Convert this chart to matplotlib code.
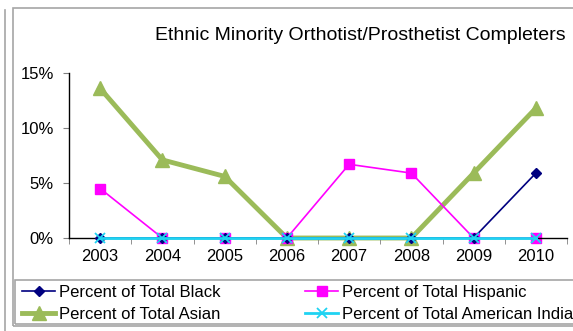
import matplotlib.pyplot as plt
from matplotlib.patches import Rectangle
from matplotlib.ticker import FixedLocator, PercentFormatter

plt.rcParams['font.family'] = ['Liberation Sans', 'DejaVu Sans']

years = ['2003', '2004', '2005', '2006', '2007', '2008', '2009', '2010']
black = [0, 0, 0, 0, 0, 0, 0, 5.9]
hispanic = [4.5, 0, 0, 0, 6.7, 5.9, 0, 0]
asian = [13.6, 7.1, 5.6, 0, 0, 0, 5.9, 11.8]
american_indian = [0, 0, 0, 0, 0, 0, 0, 0]

W, H = 573, 331
fig = plt.figure(figsize=(W / 100, H / 100), dpi=100)
ax = fig.add_axes([69 / W, 1 - 238 / H, (567 - 69) / W, (238 - 73) / H])

x = range(len(years))
l_black, = ax.plot(x, black, color='#000080', marker='D', markersize=5, lw=1.2,
                   label='Percent of Total Black', zorder=3, clip_on=False)
l_hisp, = ax.plot(x, hispanic, color='#FF00FF', marker='s', markersize=7, lw=1.2,
                  label='Percent of Total Hispanic', zorder=2, clip_on=False)
l_asian, = ax.plot(x, asian, color='#9BBB59', marker='^', markersize=10, lw=3.5,
                   label='Percent of Total Asian', zorder=1, clip_on=False)
l_ind, = ax.plot(x, american_indian, color='#1FD3F2', marker='x', markersize=7, lw=2,
                 mew=1.3, label='Percent of Total American Indian', zorder=4,
                 clip_on=False)

ax.set_xlim(-0.5, len(years) - 0.5)
ax.set_ylim(0, 15)
ax.set_yticks([0, 5, 10, 15])
ax.yaxis.set_major_formatter(PercentFormatter(decimals=0))
ax.set_xticks(list(x))
ax.set_xticklabels(years)
ax.xaxis.set_minor_locator(FixedLocator([i - 0.5 for i in range(len(years) + 1)]))
ax.tick_params(axis='x', which='major', length=0, labelsize=12, pad=8)
ax.tick_params(axis='x', which='minor', length=4, color='#808080', direction='out')
ax.tick_params(axis='y', length=4, color='#808080', labelsize=12, pad=7)
for s in ['top', 'right']:
    ax.spines[s].set_visible(False)
for s in ['left', 'bottom']:
    ax.spines[s].set_color('black')
    ax.spines[s].set_linewidth(1)
ax.patch.set_alpha(0)

fig.text(360 / W, 1 - 36 / H, 'Ethnic Minority Orthotist/Prosthetist Completers',
         ha='center', va='center', fontsize=14)

# chart frame lines
fig.patches.append(Rectangle((13 / W, 1 - 326 / H), (W + 10 - 13) / W, (326 - 8) / H,
                             transform=fig.transFigure, fill=False,
                             edgecolor='#A6A6A6', lw=1.2))
fig.lines.append(plt.Line2D([5 / W, 5 / W], [0, 1 - 10 / H], transform=fig.transFigure,
                            color='#A6A6A6', lw=1.2))

# legend frame
fig.patches.append(Rectangle((15 / W, 1 - 324 / H), (W + 10 - 15) / W, 44 / H,
                             transform=fig.transFigure, fill=False,
                             edgecolor='#A6A6A6', lw=1.2))

leg_kw = dict(ncol=1, loc='center left', fontsize=12, handlelength=2.0,
              handletextpad=0.2, labelspacing=0.4, frameon=False,
              borderpad=0, borderaxespad=0)
leg1 = fig.legend([l_black, l_asian], ['Percent of Total Black', 'Percent of Total Asian'],
                  bbox_to_anchor=(22 / W, 1 - 303.5 / H), **leg_kw)
leg2 = fig.legend([l_hisp, l_ind], ['Percent of Total Hispanic',
                                    'Percent of Total American Indian'],
                  bbox_to_anchor=(305 / W, 1 - 303.5 / H), **leg_kw)

fig.savefig('out.png', dpi=100)
